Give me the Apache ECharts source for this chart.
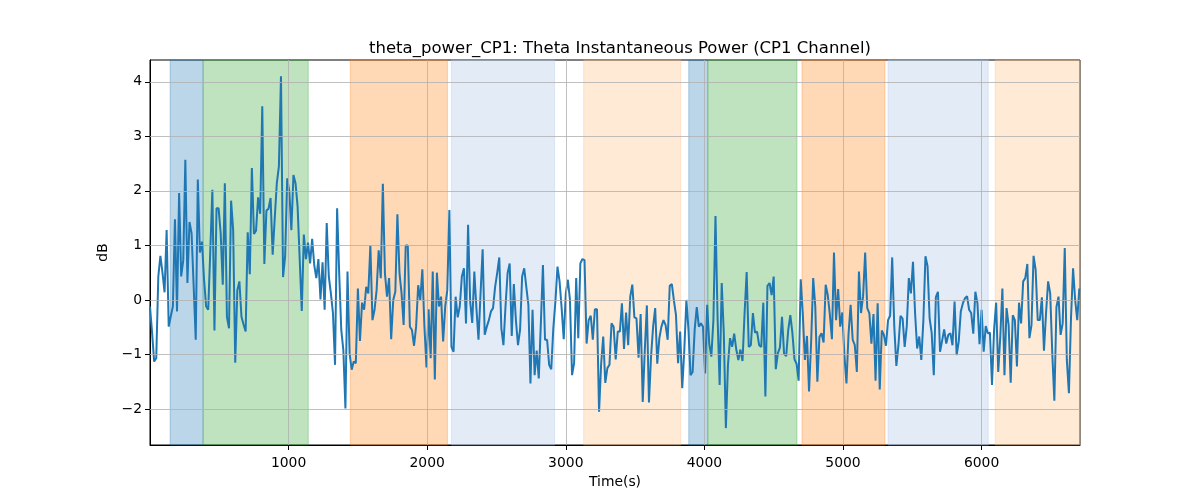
<!DOCTYPE html>
<html>
<head>
<meta charset="utf-8">
<script src="https://cdn.jsdelivr.net/npm/echarts@6/dist/echarts.min.js"></script>
<style>html,body{margin:0;padding:0;background:#fff}#c{width:1200px;height:500px}</style>
</head>
<body>
<div id="c"></div>
<script>
// Sampling: one value every 15 s, starting at t = 0
const T_START = 0;
const T_STEP = 15;

const seg1 = [-0.12,-0.6,-1.13,-1.07,0.43,0.81,0.5,0.14,1.28,-0.49,-0.3,-0.12,1.48,-0.21,1.96,0.43,0.73,2.57,0.31,1.43,1.22,0.25,-0.73,2.21,0.87,1.07,0.37,-0.12,-0.18,0.9,2.02,-0.56,1.68,1.68,1.22,0.28,2.14,-0.31,-0.52,1.82,1.28,-1.15,0.18,0.34,-0.31,-0.45,-0.58,1.24,0.47,2.42,1.21,1.27,1.88,1.58,3.55,0.66,1.64,1.67,1.87,0.83,1.5,2.14,2.45,4.10,0.42,0.80,2.23,1.99,1.28,2.29,2.14,1.71,0.75,-0.20,1.20,0.75,1.05,0.67];
const seg2 = [1.12,0.64,0.40,0.75,0.01,0.69,-0.18,1.41,0.43,0.12,-0.24,-1.19,1.68,0.49,-0.55,-0.92,-1.99,0.52,-0.98,-1.28,-1.13,-1.16,0.21,-0.75,-0.05,-0.18,0.24,0.12,1.0,-0.37,-0.18,0.18,0.91,0.40,2.13,0.49,0.06,0.40,-0.72,0.0,0.15,1.57,0.49,0.12,-0.46,1.0,1.0,-0.49,-0.55,-0.84,-0.49,0.27,0.0,0.56,-0.49,-1.24,-0.17,-1.07,0.52,-1.46,0.50,-0.12,0.06,-0.76,-0.12,0.18,1.65];
const seg3 = [-0.86,-0.95,0.06,-0.32,-0.12,0.43,0.58,-0.43,1.38,-0.03,-0.42,0.52,-0.15,-0.73,0.12,0.93,-0.64,-0.49,-0.37,-0.21,-0.15,0.24,0.49,0.78,-0.52,-0.83,-0.12,0.49,0.67,-0.66,0.29,-0.37,-0.83,-0.55,0.43,0.58,0.24,-0.09,-1.53,-0.18,-1.38,-0.93,-1.44,-0.43,0.64,-0.73,-0.73,-1.19,-1.27,-0.52,-0.03,0.61,0.34,-0.15,-0.72,0.12,0.37,0.0,-1.38,-1.16,0.40,-0.70,0.67,0.75,0.73,-0.80,-0.37,-0.29,-0.73,-0.17,-0.17,-2.05,-1.17,-0.67,-1.52,-1.25,-1.19];
const seg4 = [-0.43,-0.49,-1.09,-0.58,-0.58,-0.06,-0.90,-0.23,-0.83,0.06,0.28,-0.32,-0.34,-1.06,-0.26,-1.87,-0.92,-0.10,-1.88,-1.04,-0.49,-0.15,-1.17,-0.70,-0.49,-0.37,-0.46,-0.73,0.26,0.29,-0.01,-0.28,-1.16,-0.58,-1.62,-0.92,0.0,-0.54,-1.38,-1.32,-0.54,-0.13,-0.49,-0.43,-0.49,-1.35,-0.09,-0.80,-1.04,-0.37,1.54,-0.31,-1.56,0.31,-0.61,-2.35,-1.19,-0.70,-0.86,-0.62,-0.91,-1.10,-0.91,-1.12,-0.24,0.51,-0.86,-0.83,-0.24,-0.60,-0.58,-0.83];
const seg5 = [-0.86,-0.05,-1.77,0.26,0.31,0.09,0.43,-1.27,-0.98,-0.87,-0.31,-0.99,-1.03,-0.55,-0.28,-0.61,-1.09,-1.17,-1.48,0.38,-0.26,-1.10,-0.66,-1.68,-0.78,0.40,-0.12,-1.50,-0.68,-0.61,-0.78,0.28,0.09,-0.26,-0.72,0.87,-0.37,0.20,-0.49,-0.23,-1.01,-1.53,-0.62,-0.09,-0.73,-0.83,-1.32,0.52,-0.24,0.07,0.87,-0.15,-0.24,-0.80,-0.26,-1.48,-0.06,-1.64,-0.56,-0.64,-0.84,-0.37,-0.29,0.78,-0.49,-1.21,-0.83,-0.29,-0.34,-0.86,-0.49,0.40];
const seg6 = [0.12,0.70,-0.24,-0.89,-0.67,-1.10,-0.37,0.80,0.62,-0.34,-0.61,-1.38,0.05,0.15,-0.95,-0.75,-0.54,-0.80,-0.64,-0.61,-0.83,-0.03,-1.01,-0.76,-0.21,-0.06,0.03,0.07,-0.18,-0.24,-0.62,0.15,-0.06,-0.81,-0.18,-0.95,-0.48,-0.61,-0.60,-1.56,-0.55,-0.05,-1.32,-0.67,0.21,-1.38,-0.15,-0.46,-1.52,-0.28,-0.37,-1.22,-0.05,-0.43,0.34,0.40,0.66,-0.70,-0.46,0.81,0.55,-0.37,-0.37,0.05,-0.93,-0.24,0.34,0.12,-0.98,-1.85,-0.13,0.06,-0.64,-0.43,0.95,-1.10,-1.71,-0.34,0.58,0.0,-0.37,0.21];
const thetaPower = [].concat(seg1, seg2, seg3, seg4, seg5, seg6);

// Shaded epochs [start, end, colour]
const spanStarts = [145, 383, 1445, 2175, 3129, 3887, 4025, 4704, 5325, 6098];
const spanEnds   = [383, 1142, 2146, 2919, 3829, 4025, 4668, 5303, 6048, 6740];
const spanColors = ['rgba(31,119,180,0.3)','rgba(44,160,44,0.3)','rgba(255,127,14,0.3)','rgba(174,199,232,0.35)','rgba(255,187,120,0.3)',
                    'rgba(31,119,180,0.3)','rgba(44,160,44,0.3)','rgba(255,127,14,0.3)','rgba(174,199,232,0.35)','rgba(255,187,120,0.3)'];

const xTicks = [1000, 2000, 3000, 4000, 5000, 6000];
const yTicks = [-2, -1, 0, 1, 2, 3, 4];
const X_MIN = 0, X_MAX = 6710, Y_MIN = -2.66, Y_MAX = 4.4;

const lineData = thetaPower.map((v, i) => [T_START + i * T_STEP, v]);
const areas = spanStarts.map((s, i) => [
  {xAxis: s, itemStyle: {color: spanColors[i], borderColor: spanColors[i], borderWidth: 1}},
  {xAxis: spanEnds[i]}
]);
const gridLines = xTicks.map(v => ({xAxis: v})).concat(yTicks.map(v => ({yAxis: v})));

const font = 'DejaVu Sans';
const chart = echarts.init(document.getElementById('c'), null, {renderer: 'canvas'});
chart.setOption({
  animation: false,
  backgroundColor: '#fff',
  title: {
    text: 'theta_power_CP1: Theta Instantaneous Power (CP1 Channel)',
    left: 615, top: 35, textAlign: 'center',
    textStyle: {fontFamily: font, fontSize: 16.5, fontWeight: 'normal', color: '#000'}
  },
  grid: {left: 150, right: 120, top: 60, bottom: 55, show: true, borderColor: '#000', borderWidth: 1, backgroundColor: 'transparent'},
  xAxis: {
    type: 'value', min: X_MIN, max: X_MAX, interval: 1000,
    name: 'Time(s)', nameLocation: 'middle', nameGap: 30,
    nameTextStyle: {fontFamily: font, fontSize: 13.9, color: '#000'},
    axisLine: {show: true, onZero: false, lineStyle: {color: '#000', width: 1}},
    axisTick: {show: true, length: 5, lineStyle: {color: '#000'}},
    axisLabel: {fontFamily: font, fontSize: 13.9, color: '#000', margin: 11, showMinLabel: false, showMaxLabel: false,
      formatter: v => String(v)},
    splitLine: {show: false}
  },
  yAxis: {
    type: 'value', min: Y_MIN, max: Y_MAX,
    name: 'dB', nameLocation: 'middle', nameGap: 33, nameRotate: 90,
    nameTextStyle: {fontFamily: font, fontSize: 13.9, color: '#000'},
    axisLine: {show: true, onZero: false, lineStyle: {color: '#000', width: 1}},
    axisTick: {show: true, length: 5, lineStyle: {color: '#000'}, customValues: yTicks},
    axisLabel: {fontFamily: font, fontSize: 13.9, color: '#000', margin: 8, customValues: yTicks,
      formatter: v => (v < 0 ? '\u2212' + Math.abs(v) : String(v))},
    splitLine: {show: false}
  },
  series: [
    {type: 'line', data: [], z: 1, silent: true, markArea: {silent: true, data: areas}},
    {type: 'line', data: [], z: 2, silent: true,
     markLine: {silent: true, symbol: 'none', label: {show: false}, animation: false,
       lineStyle: {color: '#b0b0b0', width: 0.8, type: 'solid'}, data: gridLines}},
    {type: 'line', data: lineData, z: 3, showSymbol: false, symbol: 'none',
     lineStyle: {color: '#1f77b4', width: 2}, itemStyle: {color: '#1f77b4'}}
  ]
});
</script>
</body>
</html>
